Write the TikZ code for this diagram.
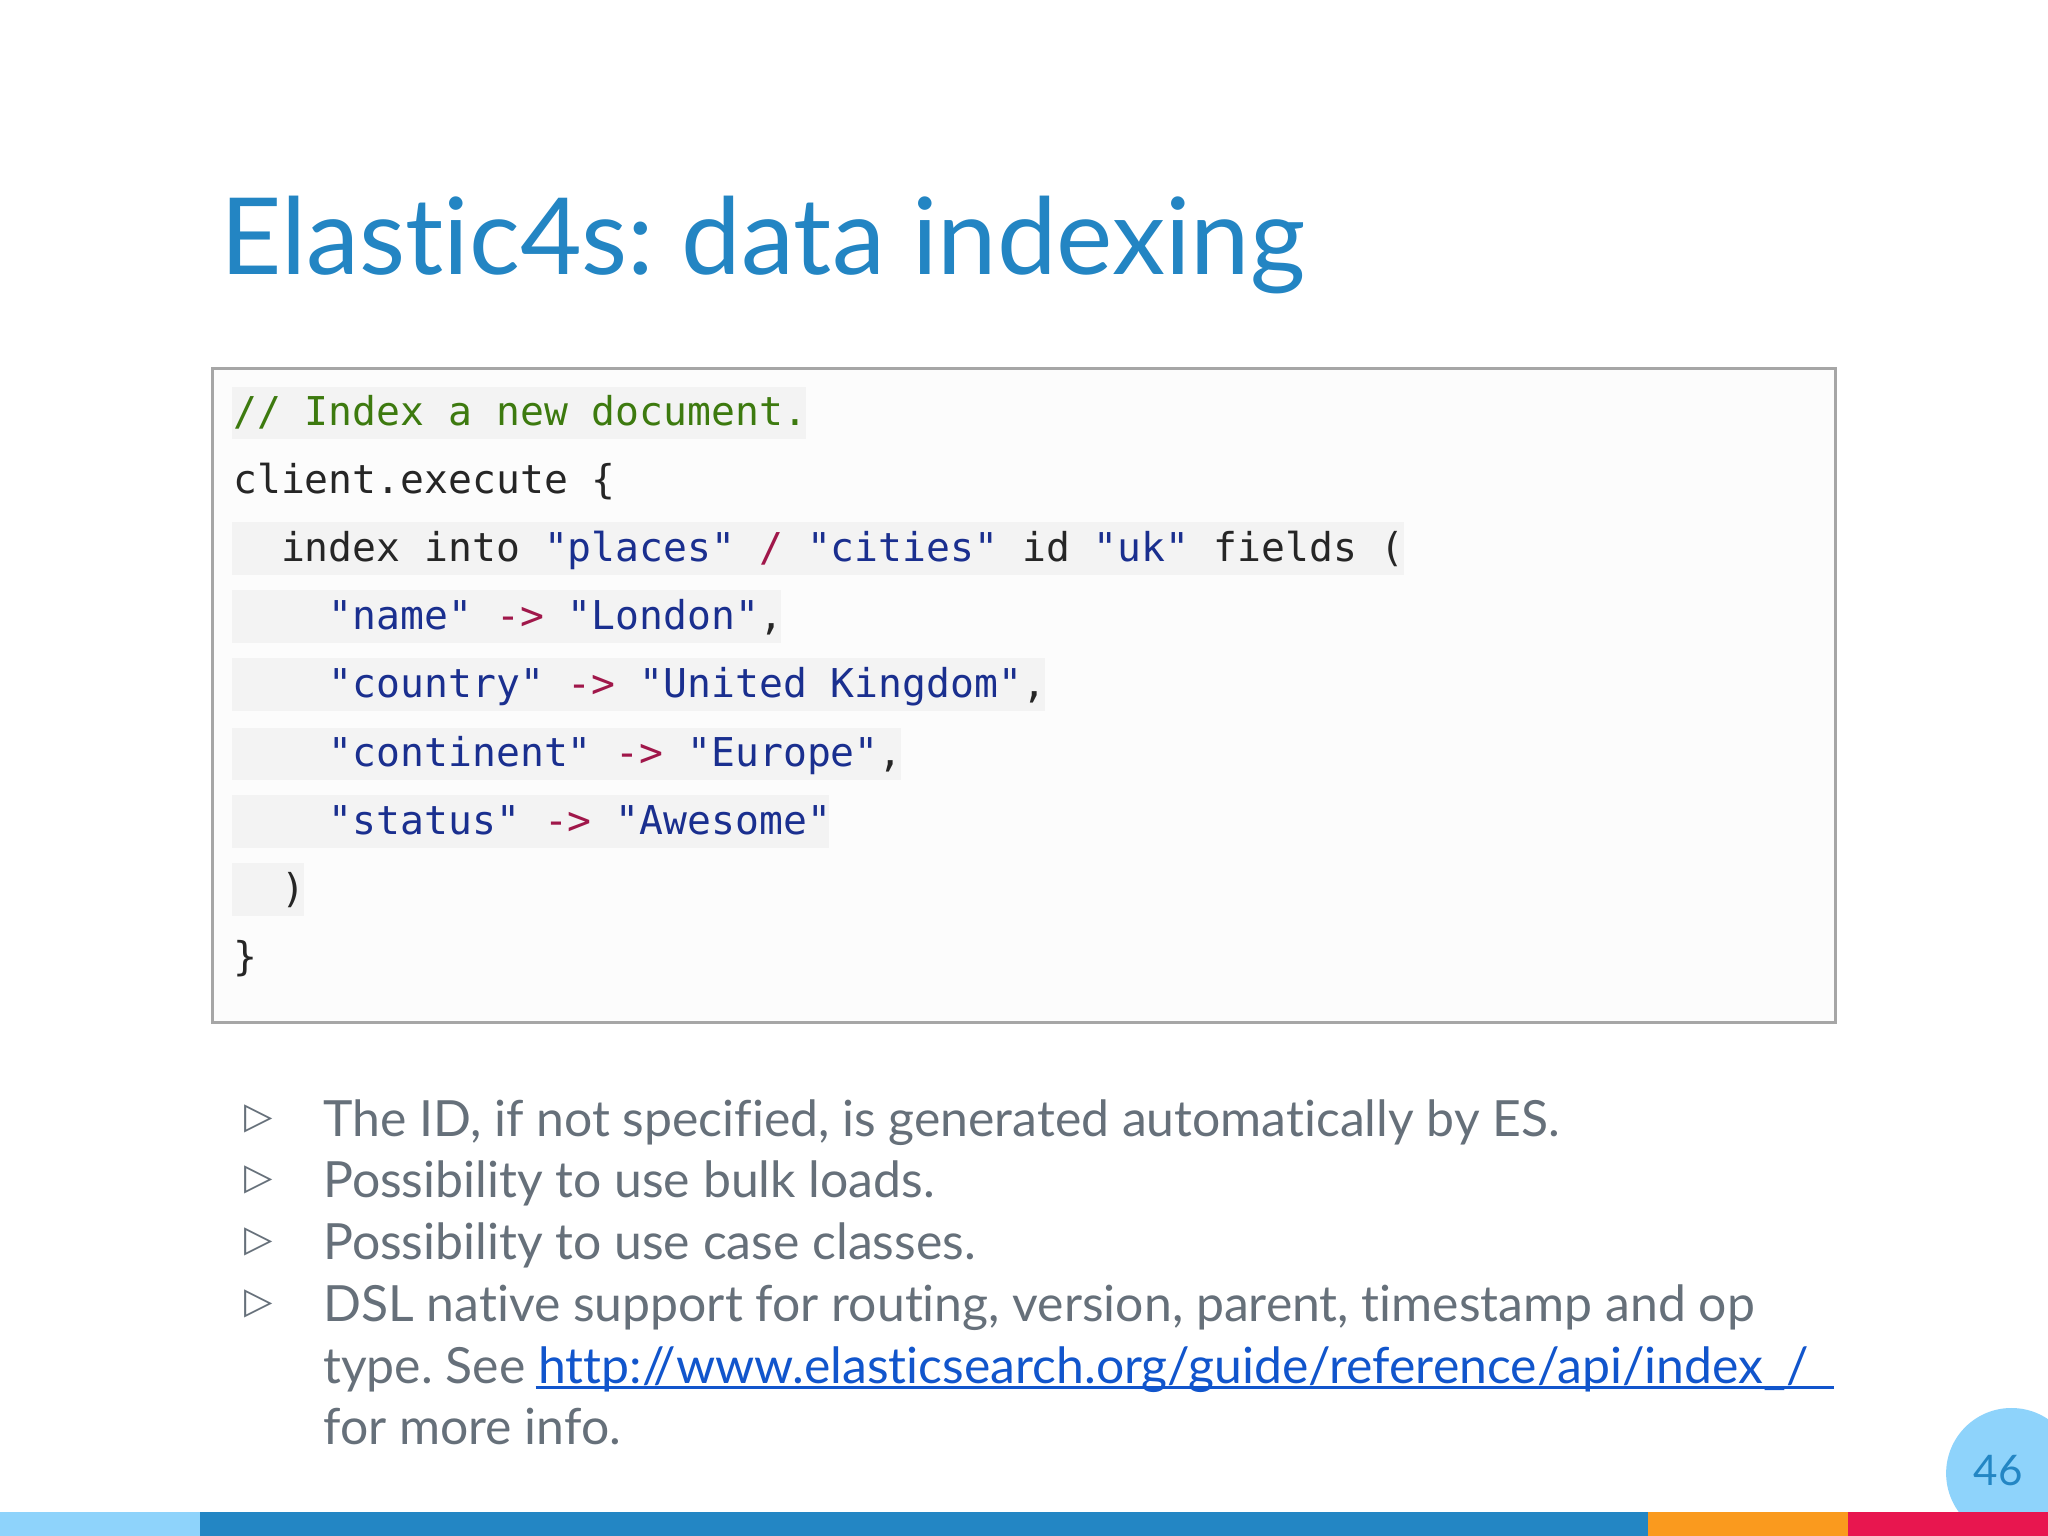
\documentclass[tikz,border=0pt]{standalone}
\usepackage{fontspec}
\setmainfont[Ligatures=NoCommon]{Lato}
\newfontfamily\codefont{DejaVu Sans Mono}
\newfontfamily\symfont{DejaVu Sans}
\definecolor{titleblue}{HTML}{2385C3}
\definecolor{cmt}{HTML}{3D7A0F}
\definecolor{str}{HTML}{1A2F8F}
\definecolor{arr}{HTML}{A0174A}
\definecolor{hl}{HTML}{F3F3F3}
\definecolor{txt}{HTML}{66707A}
\definecolor{lnk}{HTML}{1155CC}
\definecolor{lb}{HTML}{8ED3FB}
\definecolor{db}{HTML}{2386C4}
\definecolor{org}{HTML}{FA9A1E}
\definecolor{pnk}{HTML}{E8164F}
\newcommand\ind[1]{\hspace*{#1\dimexpr0.602em\relax}}
\frenchspacing
\tikzset{codeline/.style={anchor=base west,inner sep=0,font=\codefont\fontsize{11.3}{13}\selectfont,text=black!85},
bul/.style={anchor=base west,inner sep=0,font=\fontsize{14.2}{17}\selectfont,text=txt}}
\begin{document}
\begin{tikzpicture}[x=0.013061cm,y=-0.013061cm]
\useasboundingbox (0,0) rectangle (1568,1176);
\fill[white] (0,0) rectangle (1568,1176);
\node[anchor=base west,inner sep=0,text=titleblue,font=\fontsize{30.3}{36}\selectfont] (title) at (168,210) {Elastic4s: data indexing};
\draw[gray!70,line width=0.8pt,fill=white!98!gray] (163,282) rectangle (1405,783);
\foreach \y/\r in {316/617,420/1075,472/598,524/800,577/690,629/635,681/233}{
  \fill[hl] (178,\y-20) rectangle (\r,\y+20);}
\node[codeline] (l1) at (178,326) {\textcolor{cmt}{// Index a new document.}};
\node[codeline] (l2) at (178,378) {client.execute \{};
\node[codeline] (l3) at (178,430) {\ind{2}index into \textcolor{str}{"places"} \textcolor{arr}{/} \textcolor{str}{"cities"} id \textcolor{str}{"uk"} fields (};
\node[codeline] (l4) at (178,482) {\ind{4}\textcolor{str}{"name"} \textcolor{arr}{->} \textcolor{str}{"London"},};
\node[codeline] (l5) at (178,534) {\ind{4}\textcolor{str}{"country"} \textcolor{arr}{->} \textcolor{str}{"United Kingdom"},};
\node[codeline] (l6) at (178,587) {\ind{4}\textcolor{str}{"continent"} \textcolor{arr}{->} \textcolor{str}{"Europe"},};
\node[codeline] (l7) at (178,639) {\ind{4}\textcolor{str}{"status"} \textcolor{arr}{->} \textcolor{str}{"Awesome"}};
\node[codeline] (l8) at (178,691) {\ind{2})};
\node[codeline] (l9) at (178,743) {\}};
\foreach \y in {868,915,962,1010}{
  \node[anchor=base west,inner sep=0,text=txt,font=\symfont\fontsize{10.5}{13}\selectfont] at (187,\y-4) {▷};}
\node[bul] (b1) at (247,870) {The ID, if not specified, is generated automatically by ES.};
\node[bul] (b2) at (247,917) {Possibility to use bulk loads.};
\node[bul] (b3) at (247,964) {Possibility to use case classes.};
\node[bul] (b4) at (247,1012) {DSL native support for routing, version, parent, timestamp and op};
\node[bul] (b5) at (247,1059) {type. See \textcolor{lnk}{http://www.elasticsearch.org/guide/reference/api/index\_/}};
\draw[lnk,line width=0.9pt] (410,1062) -- (1404,1062);
\node[bul] (b6) at (247,1106) {for more info.};
\begin{scope}
\clip (0,0) rectangle (1568,1158);
\fill[lb] (1540,1128) circle (50);
\end{scope}
\node[text=db,font=\fontsize{12}{14}\selectfont,inner sep=0] (pg) at (1530,1126) {46};
\fill[lb] (0,1158) rectangle (153,1176);
\fill[db] (153,1158) rectangle (1262,1176);
\fill[org] (1262,1158) rectangle (1415,1176);
\fill[pnk] (1415,1158) rectangle (1568,1176);
\end{tikzpicture}
\end{document}
